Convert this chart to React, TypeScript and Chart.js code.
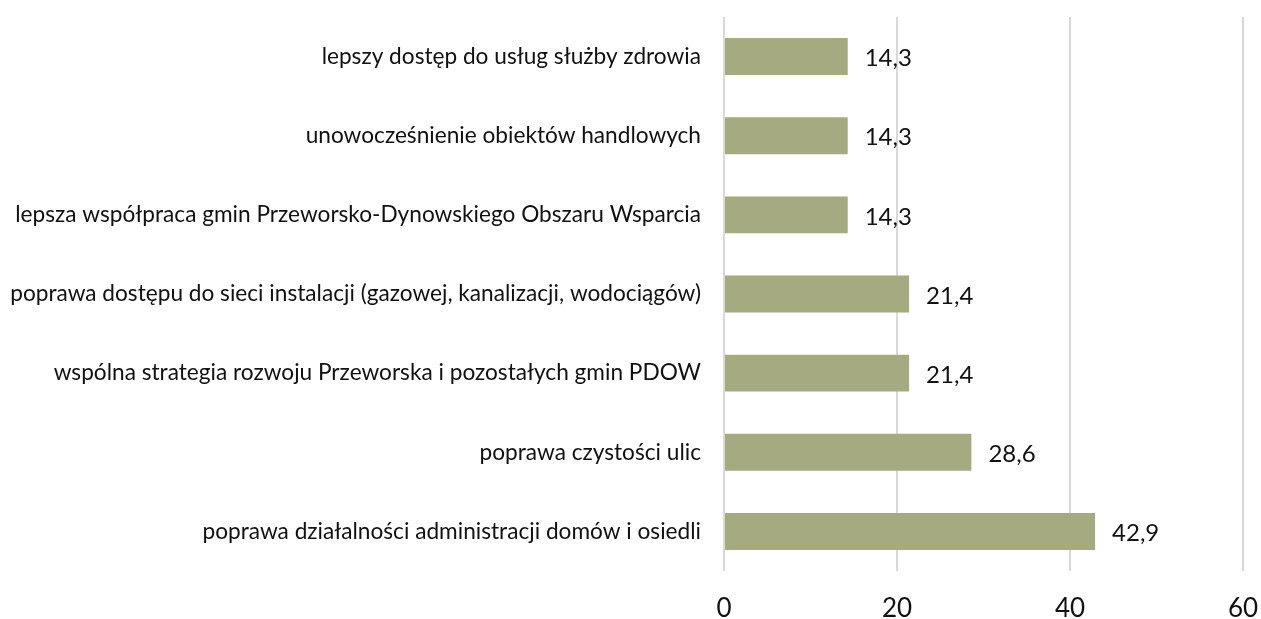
import React, { useEffect, useRef } from "react";
import { Chart, registerables } from "chart.js";

Chart.register(...registerables);

const categories = [
  "lepszy dostęp do usług służby zdrowia",
  "unowocześnienie obiektów handlowych",
  "lepsza współpraca gmin Przeworsko-Dynowskiego Obszaru Wsparcia",
  "poprawa dostępu do sieci instalacji (gazowej, kanalizacji, wodociągów)",
  "wspólna strategia rozwoju Przeworska i pozostałych gmin PDOW",
  "poprawa czystości ulic",
  "poprawa działalności administracji domów i osiedli",
];
const values = [14.3, 14.3, 14.3, 21.4, 21.4, 28.6, 42.9];
const xTicks = [0, 20, 40, 60];

const FONT = "Lato, 'Open Sans', sans-serif";

const dataLabels = {
  id: "dataLabels",
  afterDatasetsDraw(chart: any) {
    const ctx = chart.ctx;
    const meta = chart.getDatasetMeta(0);
    ctx.save();
    ctx.font = `24px ${FONT}`;
    ctx.fillStyle = "#111";
    ctx.textAlign = "left";
    ctx.textBaseline = "middle";
    meta.data.forEach((el: any, i: number) => {
      const v = chart.data.datasets[0].data[i];
      ctx.fillText(String(v).replace(".", ","), el.x + 17, el.y + 2);
    });
    ctx.restore();
  },
};

export default function App() {
  const ref = useRef<HTMLCanvasElement | null>(null);
  useEffect(() => {
    if (!ref.current) return;
    const chart = new Chart(ref.current, {
      type: "bar",
      data: {
        labels: categories,
        datasets: [
          {
            data: values,
            backgroundColor: "#A5AA80",
            barPercentage: 0.467,
            categoryPercentage: 1,
          },
        ],
      },
      options: {
        indexAxis: "y",
        animation: false,
        responsive: true,
        maintainAspectRatio: false,
        layout: { padding: { top: 17, right: 18, left: 0, bottom: 0 } },
        plugins: { legend: { display: false }, tooltip: { enabled: false } },
        scales: {
          x: {
            min: 0,
            max: 60,
            afterBuildTicks: (s: any) => {
              s.ticks = xTicks.map((v) => ({ value: v }));
            },
            afterFit: (s: any) => {
              s.height = 48;
              s.paddingLeft = 0;
              s.paddingRight = 0;
            },
            grid: { color: "#d9d9d9", lineWidth: 2, drawTicks: false },
            border: { display: false },
            ticks: {
              font: { family: FONT, size: 26 },
              color: "#111",
              padding: 22,
              maxRotation: 0,
            },
          },
          y: {
            afterFit: (s: any) => {
              s.width = 724;
              s.paddingTop = 0;
              s.paddingBottom = 0;
            },
            grid: { display: false, drawTicks: false },
            border: { display: false },
            ticks: {
              font: { family: FONT, size: 22.65 },
              color: "#111",
              padding: 23,
              autoSkip: false,
            },
          },
        },
      },
      plugins: [dataLabels],
    });
    return () => chart.destroy();
  }, []);
  return (
    <div style={{ position: "absolute", left: 0, top: 0, width: 1261, height: 619, background: "#fff" }}>
      <canvas ref={ref} />
    </div>
  );
}
